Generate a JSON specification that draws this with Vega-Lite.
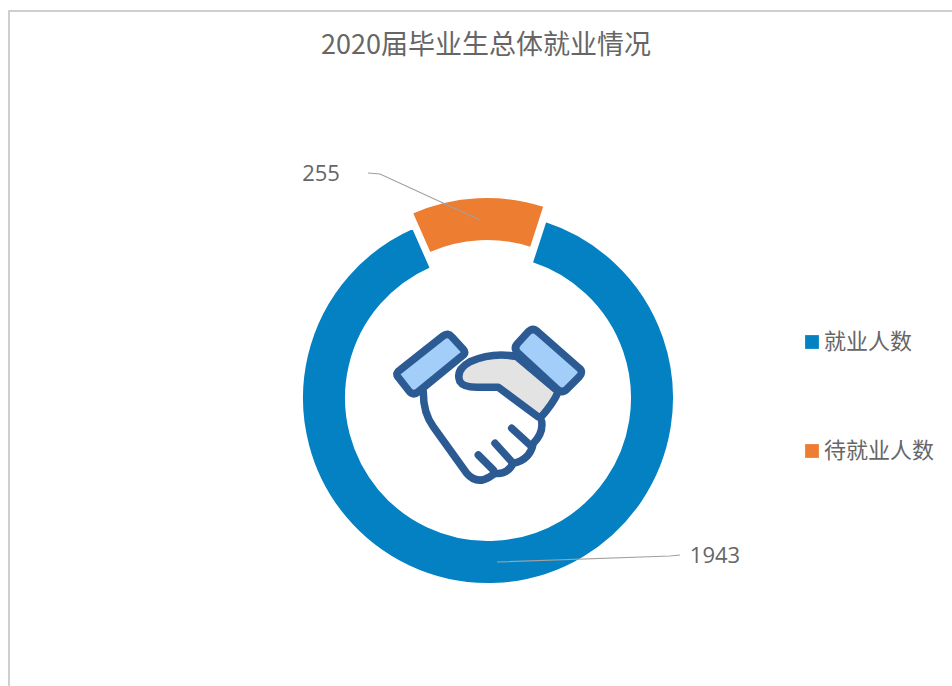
{
  "$schema": "https://vega.github.io/schema/vega-lite/v6.json",
  "width": 958,
  "height": 774,
  "autosize": "none",
  "padding": {"left": 9, "top": 11, "right": 0, "bottom": 0},
  "background": "#ffffff",
  "view": {"stroke": "#c0c0c0", "strokeWidth": 1.5, "fill": "#ffffff"},
  "title": {
    "text": "2020届毕业生总体就业情况",
    "anchor": "middle",
    "frame": "group",
    "dy": 53,
    "dx": -2,
    "font": "Noto Sans CJK SC",
    "fontSize": 27,
    "fontWeight": "normal",
    "color": "#666666"
  },
  "data": {"values": [
    {"status": "就业人数", "count": 1943},
    {"status": "待就业人数", "count": 255}
  ]},
  "transform": [
    {"stack": "count", "groupby": [], "as": ["c0", "c1"], "sort": [{"field": "count", "order": "descending"}]}
  ],
  "encoding": {
    "theta": {"field": "c0", "type": "quantitative", "scale": {"domain": [0, 2198], "range": [0.314, 6.597]}},
    "theta2": {"field": "c1"},
    "color": {
      "field": "status",
      "type": "nominal",
      "scale": {"domain": ["就业人数", "待就业人数"], "range": ["#0481C3", "#ED7D31"]},
      "legend": {
        "title": null,
        "orient": "none",
        "legendX": 792,
        "legendY": 320,
        "symbolType": "square",
        "symbolSize": 190,
        "symbolStrokeWidth": 0,
        "labelFont": "Noto Sans CJK SC",
        "labelFontSize": 22,
        "labelColor": "#666666",
        "labelOffset": 1,
        "rowPadding": 87
      }
    }
  },
  "layer": [
    {
      "transform": [{"filter": "datum.status === '就业人数'"}],
      "mark": {"type": "arc", "radius": 186, "radius2": 142, "stroke": "#ffffff", "strokeWidth": 2}
    },
    {
      "transform": [{"filter": "datum.status === '待就业人数'"}],
      "mark": {"type": "arc", "radius": 186, "radius2": 142, "stroke": "#ffffff", "strokeWidth": 2, "xOffset": -1, "yOffset": -15}
    },
    {
      "data": {"values": [{"part": "leader"}]},
      "transform": [],
      "encoding": {"theta": null, "theta2": null, "color": null},
      "mark": {"type": "point", "filled": false, "size": 4, "opacity": 1, "stroke": "#a0a0a0", "strokeWidth": 1.2,
        "shape": "M -120 -225 L -108 -224 L -8 -178 M 9 164 L 182 158 L 192 157"}
    },
    {
      "data": {"values": [{"part": "gray hand"}]},
      "transform": [],
      "encoding": {"theta": null, "theta2": null, "color": null},
      "mark": {"type": "point", "filled": true, "size": 4, "opacity": 1, "fill": "#E3E3E3", "stroke": "#2C5A93", "strokeWidth": 7.5, "strokeJoin": "round", "strokeCap": "round",
        "shape": "M 28.7 -41.3 Q 5.3 -46.3 -18 -36.3 Q -33 -28 -28 -16.3 Q -24.7 -10.7 -11.3 -10.7 L 10.3 -10.7 L 52 20.3 Q 65.3 5.3 70.3 -6.3 Z"}
    },
    {
      "data": {"values": [{"part": "white hand"}]},
      "transform": [],
      "encoding": {"theta": null, "theta2": null, "color": null},
      "mark": {"type": "point", "filled": true, "size": 4, "opacity": 1, "fill": "#ffffff", "stroke": "#2C5A93", "strokeWidth": 7.5, "strokeJoin": "round", "strokeCap": "round",
        "shape": "M -64.7 -6 Q -64.7 15.3 -54.7 28.7 L -21.3 75.3 Q -11.3 87 2 78.7 L 7 75.3 Q 18.7 77 25.3 65.3 Q 42 62 45.3 45.3 Q 55.3 35.3 53.7 23.7"}
    },
    {
      "data": {"values": [{"part": "fingers"}]},
      "transform": [],
      "encoding": {"theta": null, "theta2": null, "color": null},
      "mark": {"type": "point", "filled": false, "size": 4, "opacity": 1, "stroke": "#2C5A93", "strokeWidth": 7.5, "strokeCap": "round",
        "shape": "M -9.7 57 L 5.3 72 M 7 45.3 L 23.7 63.7 M 23.7 30.3 L 42 47"}
    },
    {
      "data": {"values": [{"part": "cuffs"}]},
      "transform": [],
      "encoding": {"theta": null, "theta2": null, "color": null},
      "mark": {"type": "point", "filled": true, "size": 4, "opacity": 1, "fill": "#A3CEF9", "stroke": "#2C5A93", "strokeWidth": 7.5, "strokeJoin": "round",
        "shape": "M -45 -62 Q -40 -66 -36 -61 L -25 -49 Q -21 -45 -26 -42 L -70 -6 Q -75 -2 -79 -7 L -90 -21 Q -93 -25 -88 -28 Z M 40 -66 Q 45 -71 50 -66 L 91 -30 Q 96 -26 91 -21 L 79 -9 Q 74 -4 69 -9 L 30 -45 Q 25 -50 30 -55 Z"}
    },
    {
      "transform": [{"filter": "datum.status === '待就业人数'"}],
      "encoding": {"theta": null, "theta2": null, "color": null, "text": {"field": "count", "type": "quantitative"}},
      "mark": {"type": "text", "font": "Open Sans", "fontSize": 22, "color": "#666666", "dx": -167, "dy": -224}
    },
    {
      "transform": [{"filter": "datum.status === '就业人数'"}],
      "encoding": {"theta": null, "theta2": null, "color": null, "text": {"field": "count", "type": "quantitative", "format": "d"}},
      "mark": {"type": "text", "font": "Open Sans", "fontSize": 22, "color": "#666666", "dx": 227, "dy": 158}
    }
  ]
}
